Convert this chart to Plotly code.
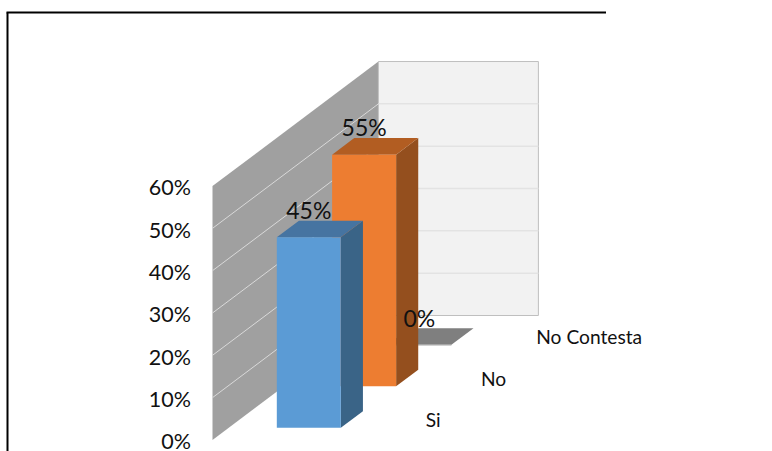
import plotly.graph_objects as go

categories = ["Si", "No", "No Contesta"]
values = [0.45, 0.547, 0.0]
tick_values = [0, 0.1, 0.2, 0.3, 0.4, 0.5, 0.6]
tick_labels = ["0%", "10%", "20%", "30%", "40%", "50%", "60%"]
value_labels = ["45%", "55%", "0%"]

front_colors = ["#5B9BD5", "#ED7D31", "#A5A5A5"]
top_colors = ["#4674A1", "#B25D22", "#7F7F7F"]
side_colors = ["#3A6487", "#944F1E", "#6E6E6E"]

FONT = "Lato"
# oblique projection of the excel style 3d box, in page pixels
ORIGIN_X = 212.5
ORIGIN_Y = 440
FLOOR_WIDTH = 160
PX_PER_UNIT = 423.3
SLOT_DX = 55.3
SLOT_DY = 41.5
MAX_VALUE = tick_values[-1]


def project(across, value, depth):
    """across: 0-1 over the floor width, value: axis value, depth: in category slots"""
    x = ORIGIN_X + across * FLOOR_WIDTH + depth * SLOT_DX
    y = ORIGIN_Y - value * PX_PER_UNIT - depth * SLOT_DY
    return x, y


def polygon(fig, corners, color, line_color=None):
    points = [project(*c) for c in corners]
    xs = [p[0] for p in points] + [points[0][0]]
    ys = [p[1] for p in points] + [points[0][1]]
    fig.add_trace(
        go.Scatter(
            x=xs,
            y=ys,
            mode="lines",
            fill="toself",
            fillcolor=color,
            line=dict(color=line_color or color, width=1 if line_color else 0),
            hoverinfo="skip",
        )
    )


def line(fig, start, end, color, width=1):
    points = [project(*start), project(*end)]
    fig.add_trace(
        go.Scatter(
            x=[p[0] for p in points],
            y=[p[1] for p in points],
            mode="lines",
            line=dict(color=color, width=width),
            hoverinfo="skip",
        )
    )


def label(fig, x, y, text, position, size):
    fig.add_trace(
        go.Scatter(
            x=[x],
            y=[y],
            mode="text",
            text=[text],
            textposition=position,
            textfont=dict(family=FONT, size=size, color="#111111"),
            cliponaxis=False,
            hoverinfo="skip",
        )
    )


fig = go.Figure()
depth_total = len(categories)

# walls
polygon(
    fig,
    [(0, 0, 0), (0, 0, depth_total), (0, MAX_VALUE, depth_total), (0, MAX_VALUE, 0)],
    "#A0A0A0",
)
polygon(
    fig,
    [
        (0, 0, depth_total),
        (1, 0, depth_total),
        (1, MAX_VALUE, depth_total),
        (0, MAX_VALUE, depth_total),
    ],
    "#F2F2F2",
    "#BFBFBF",
)

# gridlines
for tick in tick_values[1:-1]:
    line(fig, (0, tick, 0), (0, tick, depth_total), "#D9D9D9")
    line(fig, (0, tick, depth_total), (1, tick, depth_total), "#E3E3E3", 1.5)

# bars, back to front
for i in reversed(range(len(categories))):
    v = values[i]
    a0, a1 = 0.3, 0.7
    d0, d1 = i + 0.295, i + 0.695
    if v > 0:
        polygon(fig, [(a1, 0, d0), (a1, 0, d1), (a1, v, d1), (a1, v, d0)], side_colors[i])
    polygon(fig, [(a0, v, d0), (a1, v, d0), (a1, v, d1), (a0, v, d1)], top_colors[i])
    if v > 0:
        polygon(fig, [(a0, 0, d0), (a1, 0, d0), (a1, v, d0), (a0, v, d0)], front_colors[i])
    else:
        line(fig, (a0, v, d0), (a1, v, d0), front_colors[i], 1.5)

# value labels sit above the front face of each bar
for i in range(len(categories)):
    x, y = project(0.5, values[i], i + 0.295)
    label(fig, x, y - 24, value_labels[i], "middle center", 23)

# value axis labels
for tick, text in zip(tick_values, tick_labels):
    x, y = project(0, tick, 0)
    label(fig, x - 21.5, y + 4, text, "middle left", 21.5)

# category labels
for i, name in enumerate(categories):
    x, y = project(1, 0, i + 0.5)
    label(fig, x + 25.5, y + 3, name, "middle right", 19.2)

fig.update_layout(
    autosize=False,
    width=772,
    height=451,
    margin=dict(l=0, r=0, b=0, t=0),
    paper_bgcolor="white",
    plot_bgcolor="white",
    showlegend=False,
    xaxis=dict(range=[0, 772], visible=False, fixedrange=True),
    yaxis=dict(range=[451, 0], visible=False, fixedrange=True),
    shapes=[
        dict(type="line", xref="paper", yref="paper", x0=7.5 / 772, x1=7.5 / 772,
             y0=0, y1=1 - 12.5 / 451, line=dict(color="black", width=2)),
        dict(type="line", xref="paper", yref="paper", x0=6.5 / 772, x1=606 / 772,
             y0=1 - 12.5 / 451, y1=1 - 12.5 / 451, line=dict(color="black", width=2)),
    ],
)

fig.write_html(
    "out.html",
    config={"displayModeBar": False},
    post_script="document.body.style.margin='0';",
)
